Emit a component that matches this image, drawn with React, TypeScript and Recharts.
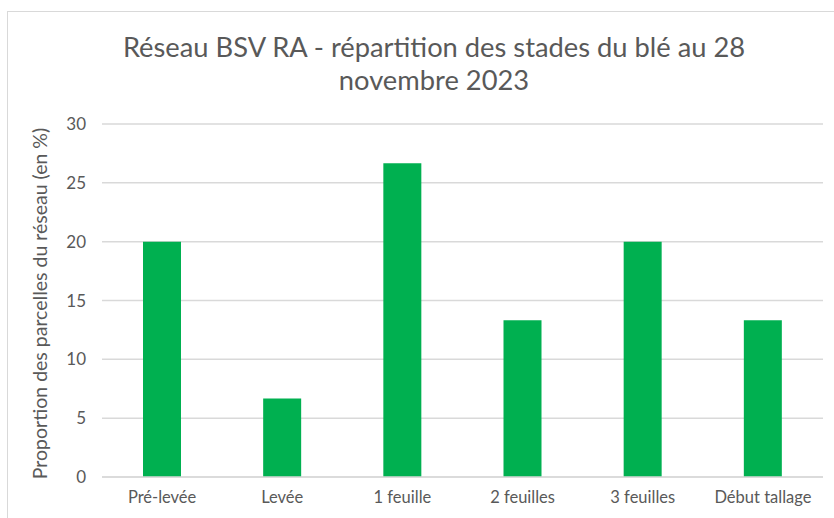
import React from 'react';
import { BarChart, Bar, XAxis, YAxis, CartesianGrid } from 'recharts';

const STADES = ['Pré-levée', 'Levée', '1 feuille', '2 feuilles', '3 feuilles', 'Début tallage'];
const PROPORTIONS = [20, 6.67, 26.67, 13.33, 20, 13.33];
const Y_TICKS = [0, 5, 10, 15, 20, 25, 30];

const data = STADES.map((stade, i) => ({ stade, proportion: PROPORTIONS[i] }));

const FONT = 'Lato, "Open Sans", sans-serif';
const GREY = '#595959';

const App: React.FC = () => {
  return (
    <div style={{ position: 'absolute', left: 0, top: 0, width: 834, height: 518, overflow: 'hidden', background: '#fff', fontFamily: FONT }}>
      <div style={{ position: 'absolute', left: 7, top: 11, width: 900, height: 600, border: '1px solid #d9d9d9' }} />
      <div style={{ position: 'absolute', left: 0, top: 30, width: 868, textAlign: 'center', color: GREY, fontSize: 27.3, lineHeight: '33px' }}>
        Réseau BSV RA - répartition des stades du blé au 28
        <br />
        novembre 2023
      </div>
      <div style={{ position: 'absolute', left: 0, top: 0 }}>
        <BarChart width={834} height={518} data={data} margin={{ top: 124, right: 11, bottom: 11, left: 0 }}>
          <CartesianGrid vertical={false} stroke="#d9d9d9" strokeWidth={1.5} />
          <XAxis
            dataKey="stade"
            height={30}
            axisLine={{ stroke: '#d9d9d9', strokeWidth: 1.5 }}
            tickLine={false}
            tickSize={0}
            tickMargin={14}
            interval={0}
            tick={{ fill: GREY, fontSize: 16.5, fontFamily: FONT }}
          />
          <YAxis
            width={102}
            domain={[0, 30]}
            ticks={Y_TICKS}
            axisLine={false}
            tickLine={false}
            tickSize={0}
            tickMargin={16}
            tick={{ fill: GREY, fontSize: 17, fontFamily: FONT }}
            label={{
              value: 'Proportion des parcelles du réseau (en %)',
              angle: -90,
              position: 'insideLeft',
              offset: 0,
              dx: 40,
              dy: 3,
              style: { fill: GREY, fontSize: 19.5, fontFamily: FONT, textAnchor: 'middle' },
            }}
          />
          <Bar dataKey="proportion" fill="#00b050" barSize={38} isAnimationActive={false} />
        </BarChart>
      </div>
    </div>
  );
};

export default App;
